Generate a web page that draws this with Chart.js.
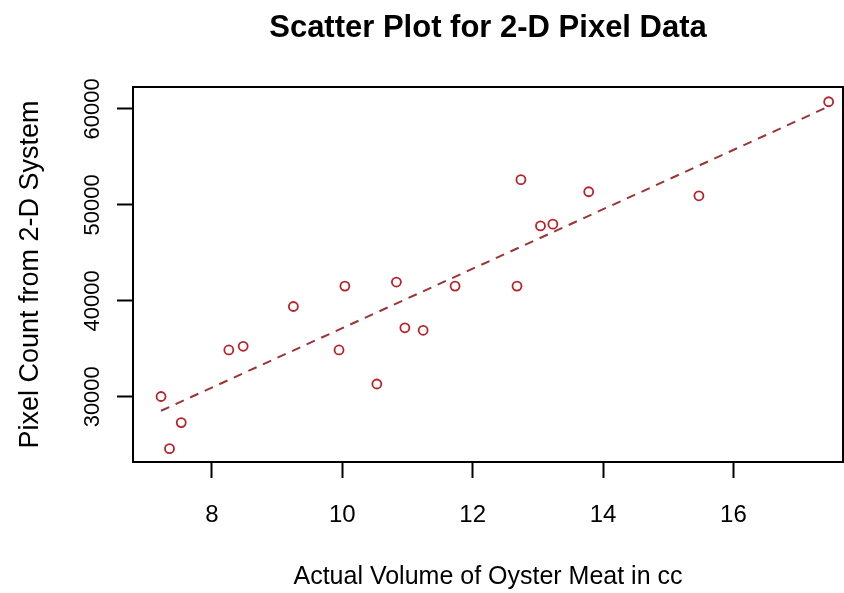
<!DOCTYPE html>
<html>
<head>
<meta charset="utf-8">
<script src="https://cdn.jsdelivr.net/npm/chart.js@4/dist/chart.umd.min.js"></script>
<style>
  html, body { margin: 0; padding: 0; background: #fff; }
  #wrap { width: 844px; height: 593px; }
</style>
</head>
<body>
<div id="wrap"><canvas id="chart"></canvas></div>
<script>
// volume of oyster meat (cc) vs pixel count
var volume = [7.22, 7.35, 7.53, 8.26, 8.48, 9.25, 9.95, 10.04, 10.53, 10.83,
              10.96, 11.24, 11.73, 12.68, 12.74, 13.04, 13.23, 13.78, 15.47, 17.46];
var pixels = [30030, 24590, 27310, 34880, 35260, 39410, 34880, 41540, 31330, 41960,
              37190, 36930, 41540, 41540, 52630, 47810, 47990, 51370, 50950, 60750];

// fitted line ends
var fitX = [7.22, 17.46];
var fitY = [28540, 60260];

var xTicks = [8, 10, 12, 14, 16];
var yTicks = [30000, 40000, 50000, 60000];

var TITLE = 'Scatter Plot for 2-D Pixel Data';
var FONT = "'Liberation Sans', Arial, sans-serif";

// box round the plot area, and the main title centred over it
var frame = {
  id: 'frame',
  afterDatasetsDraw: function(chart) {
    var a = chart.chartArea, ctx = chart.ctx;
    ctx.save();
    ctx.strokeStyle = '#000';
    ctx.lineWidth = 2;
    ctx.strokeRect(a.left, a.top, a.right - a.left, a.bottom - a.top);
    ctx.fillStyle = '#000';
    ctx.font = 'bold 31px ' + FONT;
    ctx.textAlign = 'center';
    ctx.textBaseline = 'middle';
    ctx.fillText(TITLE, (a.left + a.right) / 2, 28);
    ctx.restore();
  }
};

function makeChart() {
  var ctx = document.getElementById('chart').getContext('2d');
  new Chart(ctx, {
    type: 'scatter',
    data: {
      datasets: [{
        label: 'points',
        data: volume.map(function(v, i) { return {x: v, y: pixels[i]}; }),
        pointStyle: 'circle',
        pointRadius: 4.5,
        pointBorderWidth: 1.8,
        pointBorderColor: '#b8232b',
        pointBackgroundColor: 'rgba(0,0,0,0)',
        showLine: false
      }, {
        label: 'fit',
        type: 'line',
        data: fitX.map(function(v, i) { return {x: v, y: fitY[i]}; }),
        borderColor: '#9c3338',
        borderWidth: 2,
        borderDash: [9, 7],
        pointRadius: 0,
        fill: false
      }]
    },
    options: {
      responsive: true,
      maintainAspectRatio: false,
      animation: false,
      layout: { autoPadding: false, padding: { left: 0, right: 1, top: 87, bottom: 0 } },
      plugins: {
        legend: { display: false },
        tooltip: { enabled: false },
        title: { display: false }
      },
      scales: {
        x: {
          type: 'linear',
          min: 6.79,
          max: 17.68,
          afterBuildTicks: function(scale) {
            scale.ticks = xTicks.map(function(v) { return {value: v}; });
          },
          afterFit: function(scale) { scale.height = 131; },
          grid: { drawOnChartArea: false, drawTicks: true, tickLength: 16, tickColor: '#000', tickWidth: 2 },
          border: { display: true, color: '#000', width: 2 },
          ticks: { color: '#000', padding: 23, font: { family: FONT, size: 24 } },
          title: {
            display: true,
            text: 'Actual Volume of Oyster Meat in cc',
            color: '#000',
            font: { family: FONT, size: 25 },
            padding: { top: 0, bottom: 1 }
          }
        },
        y: {
          type: 'linear',
          min: 23200,
          max: 62290,
          afterBuildTicks: function(scale) {
            scale.ticks = yTicks.map(function(v) { return {value: v}; });
          },
          afterFit: function(scale) { scale.width = 133; },
          grid: { drawOnChartArea: false, drawTicks: true, tickLength: 16, tickColor: '#000', tickWidth: 2 },
          border: { display: true, color: '#000', width: 2 },
          ticks: {
            color: '#000',
            minRotation: 90,
            maxRotation: 90,
            crossAlign: 'center',
            padding: -7,
            font: { family: FONT, size: 22 },
            callback: function(v) { return String(v); }
          },
          title: {
            display: true,
            text: 'Pixel Count from 2-D System',
            color: '#000',
            font: { family: FONT, size: 27 },
            padding: { top: 14, bottom: 0 }
          }
        }
      }
    },
    plugins: [frame]
  });
}

window.onload = function() {
  makeChart();
};
</script>
</body>
</html>
